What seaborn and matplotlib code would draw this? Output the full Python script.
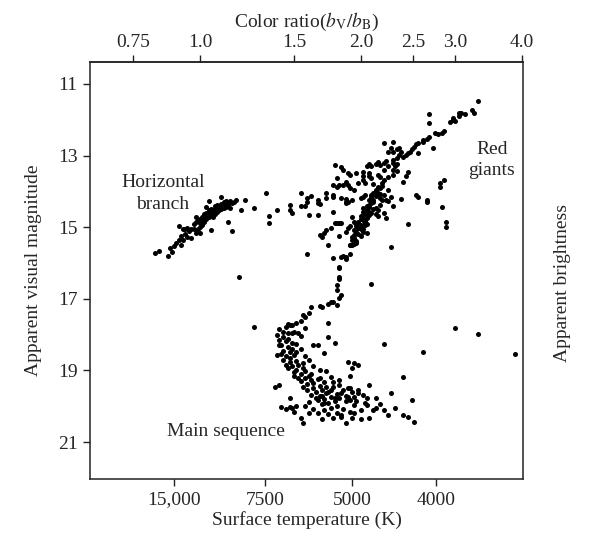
import numpy as np
import pandas as pd
import matplotlib
matplotlib.use("Agg")
import matplotlib.pyplot as plt
import seaborn as sns

# colour index (B-V, mag) and apparent visual magnitude

# horizontal branch
hb_bv = [-0.21, -0.19, -0.15, -0.14, -0.12, -0.10, -0.09, -0.09, -0.10, -0.08, -0.07, -0.06,
         -0.06, -0.05, -0.04, -0.04, -0.03, -0.02, -0.02, -0.01, -0.01, 0.00, 0.00, 0.01,
         0.01, 0.01, 0.02, 0.02, 0.03, 0.03, 0.04, 0.04, 0.05, 0.05, 0.06, 0.06, 0.07, 0.07,
         0.07, 0.08, 0.08, 0.09, 0.09, 0.10, 0.10, 0.11, 0.11, 0.12, 0.12, 0.13, 0.13, 0.14,
         0.14, 0.15, 0.16, 0.17, 0.03, 0.04, 0.06, 0.07, 0.08, 0.10, 0.11, 0.02, 0.00, -0.03,
         -0.07, -0.08, -0.11, -0.13,
         0.04, 0.03, -0.02, 0.05, 0.00, 0.10, 0.13, 0.15, 0.19, 0.21, 0.25, 0.18]
hb_v = [15.72, 15.66, 15.80, 15.58, 15.52, 15.36, 15.50, 15.25, 14.97, 15.05, 15.18, 15.28,
        15.02, 15.10, 15.30, 15.06, 14.92, 15.16, 14.86, 15.04, 14.80, 15.00, 14.76, 14.94,
        14.70, 14.88, 14.64, 14.84, 14.60, 14.78, 14.52, 14.72, 14.64, 14.48, 14.70, 14.56,
        14.42, 14.64, 14.50, 14.38, 14.58, 14.44, 14.52, 14.34, 14.50, 14.30, 14.46, 14.26,
        14.44, 14.34, 14.40, 14.28, 14.45, 14.33, 14.30, 14.24, 14.71, 14.60, 14.55, 14.49,
        14.46, 14.46, 14.35, 14.80, 14.88, 15.05, 15.05, 15.36, 15.44, 15.69,
        14.27, 14.44, 14.71, 15.08, 15.16, 14.16, 14.85, 15.11, 14.52, 14.24, 14.46, 16.39]

# scattered stars between the branches and the asymptotic giant branch
gap_bv = [0.31, 0.36, 0.32, 0.32, 0.42, 0.42, 0.43, 0.47, 0.47, 0.50, 0.50, 0.49, 0.52, 0.51,
          0.55, 0.55, 0.56, 0.55, 0.59, 0.62, 0.62, 0.66, 0.68, 0.65, 0.66, 0.61, 0.59, 0.56,
          0.57, 0.58, 0.60, 0.50, 0.62, 0.65, 0.59, 0.62, 0.63, 0.64, 0.65, 0.66, 0.67, 0.68,
          0.67, 0.64, 0.62, 0.69, 0.70, 0.69, 0.70, 0.72, 0.73, 0.76, 0.76, 0.76, 0.74, 0.77,
          0.75, 0.76, 0.77, 0.68, 0.69, 0.68, 0.71, 0.71, 0.64, 0.63]
gap_v = [14.04, 14.52, 14.69, 14.88, 14.38, 14.52, 14.60, 14.04, 14.41, 14.18, 14.30, 14.41,
         14.13, 14.66, 14.32, 14.24, 14.35, 14.66, 14.18, 14.10, 14.57, 14.18, 14.30, 14.88,
         14.88, 15.02, 15.08, 15.22, 15.27, 15.16, 15.50, 15.75, 15.86, 15.25, 14.04, 13.82,
         13.26, 13.62, 13.82, 13.32, 13.40, 13.74, 13.82, 13.88, 14.16, 13.48, 13.54, 13.82,
         13.91, 13.96, 13.48, 13.46, 13.57, 13.68, 13.76, 13.76, 14.18, 14.16, 14.10, 14.21,
         14.30, 14.32, 14.24, 14.71, 14.88, 14.88]

# subgiant branch
sgb_bv = [0.71, 0.70, 0.68, 0.67, 0.66, 0.68, 0.70, 0.70, 0.65, 0.65, 0.65, 0.65, 0.64, 0.64,
          0.66, 0.65, 0.61, 0.60, 0.64, 0.62, 0.57, 0.56, 0.52, 0.51, 0.48, 0.49, 0.60, 0.60,
          0.80, 0.89]
sgb_v = [15.50, 15.50, 15.83, 15.80, 15.83, 15.89, 15.75, 15.50, 16.14, 16.11, 16.39, 16.45,
         16.61, 16.75, 16.89, 16.98, 17.09, 17.14, 17.17, 17.09, 17.23, 17.20, 17.23, 17.39,
         17.45, 17.51, 17.68, 18.07, 16.59, 15.55]

# red giant branch
rgb_bv = [0.71, 0.72, 0.73, 0.72, 0.73, 0.72, 0.74, 0.73, 0.75, 0.74, 0.76, 0.72, 0.76, 0.75,
          0.77, 0.76, 0.78, 0.75, 0.76, 0.76, 0.77, 0.77, 0.78, 0.70, 0.69, 0.68, 0.78, 0.78,
          0.79, 0.72, 0.73,
          0.79, 0.79, 0.80, 0.79, 0.81, 0.80, 0.82, 0.81, 0.83, 0.82, 0.84, 0.83, 0.84, 0.85,
          0.84, 0.86, 0.81, 0.82, 0.83, 0.88, 0.86, 0.87, 0.90, 0.88, 0.89, 0.87,
          0.83, 0.85, 0.86, 0.84, 0.83, 0.80, 0.79, 0.78, 0.79, 0.80, 0.82, 0.83, 0.84, 0.86,
          0.87, 0.90, 0.90, 0.92, 0.88, 0.90, 0.90, 0.92, 0.91, 0.92, 0.95, 0.96, 0.97, 0.89,
          0.88, 0.90, 0.92, 0.93, 0.94, 0.93, 0.95, 0.96, 0.97, 0.98, 0.99, 1.00, 1.01, 1.02,
          1.04, 1.04, 1.06, 1.07, 1.02, 0.86, 0.90, 1.09, 1.11, 1.13, 1.14, 1.10, 1.07, 1.07,
          1.17, 1.18, 1.19, 1.18, 1.21, 1.21, 1.22, 1.24, 1.27, 1.28, 1.30,
          1.12, 1.14, 1.12, 1.01, 1.02, 1.06, 1.06, 1.13, 1.15, 1.15, 0.97, 0.94,
          0.74, 0.71, 0.75, 0.73, 0.77, 0.75, 0.79, 0.78, 0.81, 0.80, 0.82, 0.84, 0.85, 0.81,
          0.79, 0.86, 0.88, 0.82, 0.76, 0.80]
rgb_v = [15.36, 15.30, 15.39, 15.22, 15.13, 15.08, 15.02, 14.97, 14.94, 14.85, 14.80, 14.85,
         14.74, 14.69, 14.63, 14.58, 14.52, 15.25, 15.13, 15.05, 14.94, 14.83, 14.74, 14.97,
         15.02, 15.13, 15.16, 14.91, 14.66, 15.47, 15.44,
         14.44, 14.38, 14.32, 14.24, 14.24, 14.16, 14.13, 14.04, 14.04, 13.96, 13.91, 14.52,
         14.38, 14.24, 14.18, 14.10, 14.49, 14.63, 14.69, 14.27, 14.60, 14.74, 14.41, 13.96,
         14.16, 14.24,
         13.88, 13.76, 13.68, 13.60, 13.54, 13.62, 13.48, 13.29, 13.23, 13.29, 13.23, 13.18,
         13.26, 13.21, 13.15, 13.21, 13.12, 13.07, 13.60, 13.40, 13.54, 13.43, 13.29, 13.23,
         13.74, 13.57, 13.46, 12.79, 12.90, 12.90, 12.81, 12.79, 12.90, 12.98, 13.04, 12.98,
         12.93, 12.90, 12.81, 12.76, 12.68, 12.65, 12.62, 12.56, 12.54, 12.48, 12.93, 12.65,
         12.62, 12.79, 12.40, 12.37, 12.31, 12.37, 12.09, 11.84,
         12.06, 12.01, 12.03, 11.95, 11.89, 11.81, 11.81, 11.84, 11.73, 11.81, 11.47,
         13.76, 13.68, 13.88, 14.10, 14.16, 14.24, 14.30, 14.44, 14.85, 14.99, 14.91, 14.21,
         15.18, 15.28, 15.06, 14.90, 14.88, 14.78, 14.58, 14.40, 14.30, 14.10, 14.00, 14.06,
         13.84, 13.80, 13.56, 13.40, 13.30, 14.46, 14.46, 14.60]

# turnoff and main sequence
ms_bv = [0.47, 0.45, 0.43, 0.42, 0.41, 0.40, 0.37, 0.39, 0.41, 0.43, 0.44, 0.46, 0.47, 0.39,
         0.40, 0.41, 0.38, 0.41, 0.43, 0.39, 0.42, 0.43, 0.40, 0.42, 0.44, 0.39, 0.42, 0.45,
         0.43, 0.46, 0.41, 0.45, 0.48, 0.47, 0.49, 0.44, 0.49, 0.51, 0.47, 0.52, 0.50, 0.53,
         0.55, 0.53, 0.56, 0.58, 0.54, 0.57, 0.59, 0.52, 0.56, 0.59, 0.61, 0.55, 0.58, 0.61,
         0.64, 0.57, 0.60, 0.63, 0.65, 0.68, 0.69, 0.70, 0.71, 0.67, 0.70, 0.71, 0.69, 0.72,
         0.74, 0.65, 0.62, 0.58, 0.53, 0.55, 0.63, 0.51, 0.49, 0.45, 0.43, 0.42, 0.40, 0.38,
         0.42, 0.47, 0.48, 0.57, 0.62, 0.66, 0.68, 0.71, 0.75, 0.79, 0.81, 0.82, 0.88, 0.95,
         0.97, 1.00, 0.99, 0.89, 0.95, 0.79, 0.86, 0.35, 0.37, 0.25, 1.04, 1.19, 1.30, 1.47,
         0.53, 0.55, 0.58, 0.61, 0.64, 0.67, 0.72, 0.75, 0.77, 0.72, 0.76, 0.78, 0.74, 0.51,
         0.44, 0.64, 0.70, 0.84, 0.86, 0.91, 0.82, 0.70, 0.65, 0.61, 0.59, 0.56, 0.53, 0.51,
         0.49, 0.47, 0.45, 0.37, 0.36, 0.49,
         0.60, 0.62, 0.66, 0.68, 0.73, 0.63, 0.58, 0.54, 0.50, 0.48, 0.46, 0.44, 0.40, 0.38,
         0.37, 0.36, 0.45, 0.48, 0.52, 0.56, 0.57, 0.72, 0.66, 0.60, 0.78, 0.74, 0.69]
ms_v = [17.62, 17.68, 17.73, 17.73, 17.70, 17.79, 17.84, 17.93, 17.96, 17.96, 17.93, 17.96,
        18.04, 18.07, 18.18, 18.12, 18.29, 18.35, 18.23, 18.46, 18.49, 18.40, 18.60, 18.65,
        18.57, 18.71, 18.76, 18.74, 18.88, 18.85, 18.93, 18.99, 18.93, 19.10, 19.02, 19.16,
        19.21, 19.16, 19.30, 19.27, 19.38, 19.35, 19.24, 19.49, 19.44, 19.32, 19.60, 19.55,
        19.46, 19.69, 19.72, 19.63, 19.55, 19.83, 19.80, 19.74, 19.66, 19.94, 19.91, 19.86,
        19.77, 19.72, 19.74, 19.83, 19.61, 19.55, 19.16, 18.93, 18.76, 18.79, 18.85, 19.27,
        19.32, 18.51, 18.29, 18.29, 18.23, 19.88, 19.99, 19.99, 20.05, 20.02, 20.08, 20.02,
        19.77, 20.33, 20.47, 20.36, 20.33, 20.30, 20.47, 20.33, 20.36, 20.33, 20.11, 20.05,
        20.25, 20.25, 20.30, 20.44, 19.83, 19.63, 19.18, 19.41, 18.26, 19.46, 19.41, 17.79,
        18.48, 17.81, 17.98, 18.54,
        20.08, 20.19, 20.11, 20.05, 19.99, 20.08, 19.97, 20.11, 19.91, 19.74, 19.69, 19.77,
        19.55, 20.19, 20.16, 20.19, 20.16, 19.94, 20.11, 20.05, 19.77, 19.49, 19.41, 19.18,
        19.02, 18.99, 18.88, 18.71, 18.60, 18.40, 18.26, 18.15, 18.57, 17.82,
        19.60, 19.45, 19.62, 19.85, 19.85, 19.78, 19.90, 19.77, 19.55, 19.45, 19.22, 19.05,
        18.85, 18.55, 18.30, 18.00, 18.47, 18.80, 19.10, 19.22, 19.70, 20.20, 20.25, 20.22,
        19.95, 19.62, 19.50]

# axis ticks: colour ratio on top, temperature (placed at its B-V) below
ratio_ticks = [0.75, 1.0, 1.5, 2.0, 2.5, 3.0, 4.0]
temp_labels = ["15,000", "7500", "5000", "4000"]
temp_bv = [-0.121, 0.304, 0.710, 1.103]
mag_ticks = [11, 13, 15, 17, 19, 21]

df = pd.DataFrame({
    "bv": hb_bv + gap_bv + sgb_bv + rgb_bv + ms_bv,
    "v": hb_v + gap_v + sgb_v + rgb_v + ms_v,
})

sns.set_style("ticks")
plt.rcParams["font.family"] = ["Liberation Serif", "DejaVu Serif"]
plt.rcParams["mathtext.fontset"] = "stix"

fig = plt.figure(figsize=(6.02, 5.47), dpi=100)
ax = fig.add_axes([0.1495, 0.1243, 0.7193, 0.7624])

sns.scatterplot(data=df, x="bv", y="v", color="black", s=13, linewidth=0, ax=ax)

ax.set_xlim(-0.514, 1.509)
ax.set_ylim(22.03, 10.385)

ax.set_yticks(mag_ticks)
ax.set_yticklabels([str(m) for m in mag_ticks], fontsize=14)
ax.set_xticks(temp_bv)
ax.set_xticklabels(temp_labels, fontsize=14)
ax.tick_params(direction="out", length=5, width=1, color="#222222", pad=4)

top = ax.secondary_xaxis("top")
top.set_xticks([2.5 * np.log10(r) for r in ratio_ticks])
top.set_xticklabels([f"{r:.2f}" if r == 0.75 else f"{r:.1f}" for r in ratio_ticks], fontsize=14)
top.tick_params(direction="out", length=5, width=1, color="#222222", pad=3)
top.set_xlabel(r"Color ratio($b_{\mathrm{V}}/b_{\mathrm{B}}$)", fontsize=14, labelpad=5)

ax.set_xlabel("Surface temperature (K)", fontsize=14, labelpad=2)
ax.set_ylabel("Apparent visual magnitude", fontsize=14, labelpad=11)

for side in ["left", "right", "top", "bottom"]:
    ax.spines[side].set_visible(True)
    ax.spines[side].set_linewidth(1.1)
    ax.spines[side].set_color("#222222")
top.spines["top"].set_linewidth(1.1)

# right-hand label, no ticks
ax.text(1.092, 0.47, "Apparent brightness", transform=ax.transAxes, rotation=90,
        ha="center", va="center", fontsize=14)

ax.text(-0.173, 14.06, "Horizontal\nbranch", ha="center", va="center", fontsize=14,
        linespacing=1.35)
ax.text(1.364, 13.12, "Red\ngiants", ha="center", va="center", fontsize=14,
        linespacing=1.35)
ax.text(0.12, 20.69, "Main sequence", ha="center", va="center", fontsize=14)

plt.savefig("out.png", dpi=100)
